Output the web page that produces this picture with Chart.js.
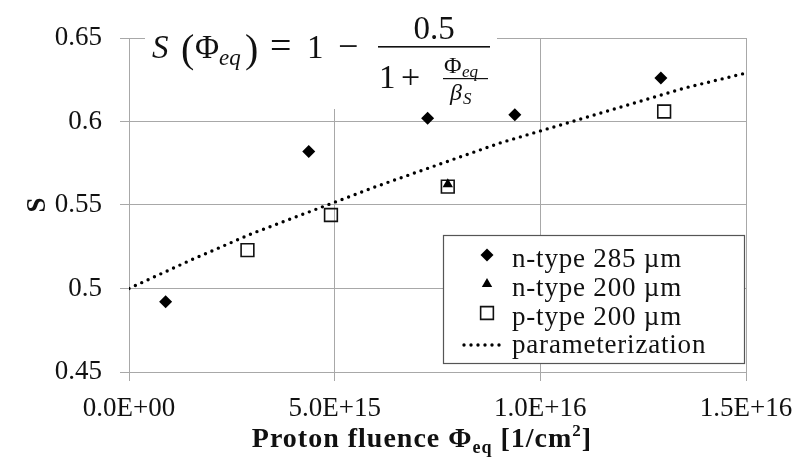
<!DOCTYPE html>
<html>
<head>
<meta charset="utf-8">
<script src="https://cdn.jsdelivr.net/npm/chart.js@4"></script>
<style>
  html, body { margin: 0; padding: 0; background: #fff; }
  #wrap { width: 807px; height: 460px; position: relative; }
</style>
</head>
<body>
<div id="wrap"><canvas id="chart"></canvas></div>
<script>
// values, fluence in 1/cm^2
const n285Fluence = [0.89e15, 4.37e15, 7.26e15, 9.38e15, 12.93e15];
const n285S = [0.492, 0.582, 0.602, 0.604, 0.626];
const n200Fluence = [7.75e15];
const n200S = [0.5625];
const p200Fluence = [2.88e15, 4.91e15, 7.75e15, 13.01e15];
const p200S = [0.523, 0.544, 0.561, 0.606];
const paramFluence = [0, 1.5e15, 3e15, 4.5e15, 6e15, 7.5e15, 9e15, 10.5e15, 12e15, 13.5e15, 15e15];
const paramS = [0.5, 0.517, 0.533, 0.547, 0.561, 0.574, 0.587, 0.598, 0.609, 0.620, 0.629];
const xTicks = [0, 5e15, 1e16, 1.5e16];
const yTicks = [0.45, 0.5, 0.55, 0.6, 0.65];
const seriesLabels = ['n-type 285 µm', 'n-type 200 µm', 'p-type 200 µm', 'parameterization'];

const SERIF = '"Liberation Serif", "Times New Roman", serif';
const GRID = '#a8a8a8';
const INK = '#111';

function toPoints(xs, ys) {
    return xs.map((x, i) => ({ x: x, y: ys[i] }));
}

// 5e15 -> "5.0E+15"
function sciLabel(v) {
    const parts = Number(v).toExponential(1).split('e');
    const exp = parseInt(parts[1], 10);
    return parts[0] + 'E' + (exp < 0 ? '-' : '+') + String(Math.abs(exp)).padStart(2, '0');
}

function drawMarker(ctx, style, x, y, r, fill, stroke, lw) {
    ctx.beginPath();
    if (style === 'rectRot') {
        ctx.moveTo(x, y - r); ctx.lineTo(x + r, y); ctx.lineTo(x, y + r); ctx.lineTo(x - r, y);
    } else if (style === 'triangle') {
        ctx.moveTo(x, y - r);
        ctx.lineTo(x + r * 0.866, y + r * 0.5);
        ctx.lineTo(x - r * 0.866, y + r * 0.5);
    } else {
        const h = r * Math.SQRT1_2;
        ctx.rect(x - h, y - h, 2 * h, 2 * h);
    }
    ctx.closePath();
    if (fill) { ctx.fillStyle = fill; ctx.fill(); }
    if (lw) { ctx.strokeStyle = stroke; ctx.lineWidth = lw; ctx.stroke(); }
}

// formula box at the top of the plot
const formulaPlugin = {
    id: 'formula',
    afterDraw(chart) {
        const ctx = chart.ctx;
        ctx.save();
        ctx.fillStyle = '#fff';
        ctx.fillRect(145, 0, 352, 109);
        ctx.fillStyle = INK;
        ctx.textBaseline = 'alphabetic';
        const txt = (s, x, y, style, size) => {
            ctx.font = style + ' ' + size + 'px ' + SERIF;
            ctx.fillText(s, x, y);
        };
        txt('S', 152, 58, 'italic', 33);
        txt('(', 181, 62, 'normal', 40);
        txt('Φ', 195, 58, 'normal', 33);
        txt('eq', 219, 65, 'italic', 23);
        txt(')', 245, 62, 'normal', 40);
        txt('=', 270, 58, 'normal', 38);
        txt('1', 307, 58, 'normal', 33);
        txt('−', 338, 58, 'normal', 36);
        ctx.fillRect(378, 46, 112, 1.6);
        ctx.textAlign = 'center';
        txt('0.5', 434, 39, 'normal', 33);
        ctx.textAlign = 'left';
        txt('1', 379, 88, 'normal', 33);
        txt('+', 401, 88, 'normal', 34);
        ctx.fillRect(443, 78, 45, 1.2);
        txt('Φ', 444, 73, 'normal', 24);
        txt('eq', 462, 77, 'italic', 17);
        txt('β', 450, 100, 'italic', 24);
        txt('S', 463, 104, 'italic', 17);
        ctx.restore();
    }
};

// boxed legend in the lower right of the plot
const legendPlugin = {
    id: 'boxLegend',
    afterDraw(chart) {
        const ctx = chart.ctx;
        ctx.save();
        ctx.fillStyle = '#fff';
        ctx.fillRect(443, 235, 302, 128);
        ctx.strokeStyle = '#555';
        ctx.lineWidth = 1.2;
        ctx.strokeRect(443.5, 235.5, 301, 128);

        const baselines = [267, 296, 325, 353];
        const symX = 487;
        chart.data.datasets.forEach((ds, i) => {
            const base = baselines[i];
            const sy = base - 12;
            if (ds.showLine) {
                ctx.save();
                ctx.strokeStyle = ds.borderColor;
                ctx.lineWidth = ds.borderWidth;
                ctx.lineCap = 'round';
                ctx.setLineDash(ds.borderDash);
                ctx.beginPath();
                ctx.moveTo(464, sy + 4);
                ctx.lineTo(506, sy + 4);
                ctx.stroke();
                ctx.restore();
            } else {
                drawMarker(ctx, ds.pointStyle, symX, sy, ds.pointRadius,
                    ds.pointBackgroundColor, ds.pointBorderColor, ds.pointBorderWidth);
            }
            ctx.fillStyle = INK;
            ctx.font = '27px ' + SERIF;
            ctx.letterSpacing = '0.8px';
            ctx.textBaseline = 'alphabetic';
            ctx.fillText(seriesLabels[i], 512, base);
            ctx.letterSpacing = '0px';
        });
        ctx.restore();
    }
};

// x axis title with sub/superscripts
const xTitlePlugin = {
    id: 'xTitle',
    afterDraw(chart) {
        const ctx = chart.ctx;
        const parts = [
            { t: 'Proton fluence Φ', size: 28, dy: 0 },
            { t: 'eq', size: 18, dy: 6 },
            { t: ' [1/cm', size: 28, dy: 0 },
            { t: '2', size: 17, dy: -11 },
            { t: ']', size: 28, dy: 0 }
        ];
        ctx.save();
        ctx.fillStyle = INK;
        ctx.textBaseline = 'alphabetic';
        ctx.letterSpacing = '1px';
        let total = 0;
        parts.forEach(p => {
            ctx.font = 'bold ' + p.size + 'px ' + SERIF;
            p.w = ctx.measureText(p.t).width;
            total += p.w;
        });
        let x = 422 - total / 2;
        parts.forEach(p => {
            ctx.font = 'bold ' + p.size + 'px ' + SERIF;
            ctx.fillText(p.t, x, 447 + p.dy);
            x += p.w;
        });
        ctx.restore();
    }
};

const ctx = document.getElementById('chart');

new Chart(ctx, {
    type: 'scatter',
    data: {
        datasets: [
            {
                label: seriesLabels[0],
                data: toPoints(n285Fluence, n285S),
                pointStyle: 'rectRot',
                pointRadius: 6.5,
                pointBackgroundColor: '#000',
                pointBorderColor: '#000',
                pointBorderWidth: 0
            },
            {
                label: seriesLabels[1],
                data: toPoints(n200Fluence, n200S),
                pointStyle: 'triangle',
                pointRadius: 6,
                pointBackgroundColor: '#000',
                pointBorderColor: '#000',
                pointBorderWidth: 0
            },
            {
                label: seriesLabels[2],
                data: toPoints(p200Fluence, p200S),
                pointStyle: 'rect',
                pointRadius: 9,
                pointBackgroundColor: 'rgba(0,0,0,0)',
                pointBorderColor: '#111',
                pointBorderWidth: 1.6
            },
            {
                label: seriesLabels[3],
                data: toPoints(paramFluence, paramS),
                showLine: true,
                pointRadius: 0,
                borderColor: '#000',
                borderWidth: 3.4,
                borderDash: [0, 7],
                borderCapStyle: 'round',
                fill: false,
                tension: 0
            }
        ]
    },
    options: {
        responsive: true,
        maintainAspectRatio: false,
        animation: false,
        events: [],
        layout: {
            padding: { left: 0, right: 61, top: 38, bottom: 0 }
        },
        plugins: {
            legend: { display: false },
            tooltip: { enabled: false }
        },
        scales: {
            x: {
                type: 'linear',
                min: 0,
                max: 1.5e16,
                afterBuildTicks: scale => { scale.ticks = xTicks.map(v => ({ value: v })); },
                afterFit: scale => { scale.height = 88; },
                grid: { color: GRID, lineWidth: 1, tickLength: 9, tickColor: GRID },
                border: { color: GRID },
                ticks: {
                    color: INK,
                    padding: 12,
                    maxRotation: 0,
                    font: { family: SERIF, size: 27 },
                    callback: v => sciLabel(v)
                },
                title: { display: false }
            },
            y: {
                min: 0.45,
                max: 0.65,
                afterBuildTicks: scale => { scale.ticks = yTicks.map(v => ({ value: v })); },
                afterFit: scale => { scale.width = 129; },
                grid: { color: GRID, lineWidth: 1, tickLength: 9, tickColor: GRID },
                border: { color: GRID },
                ticks: {
                    color: INK,
                    padding: 18,
                    font: { family: SERIF, size: 27 },
                    callback: v => String(+Number(v).toFixed(2))
                },
                title: {
                    display: true,
                    text: 'S',
                    color: INK,
                    padding: { top: 22 },
                    font: { family: SERIF, size: 27, weight: 'bold' }
                }
            }
        }
    },
    plugins: [formulaPlugin, legendPlugin, xTitlePlugin]
});
</script>
</body>
</html>
